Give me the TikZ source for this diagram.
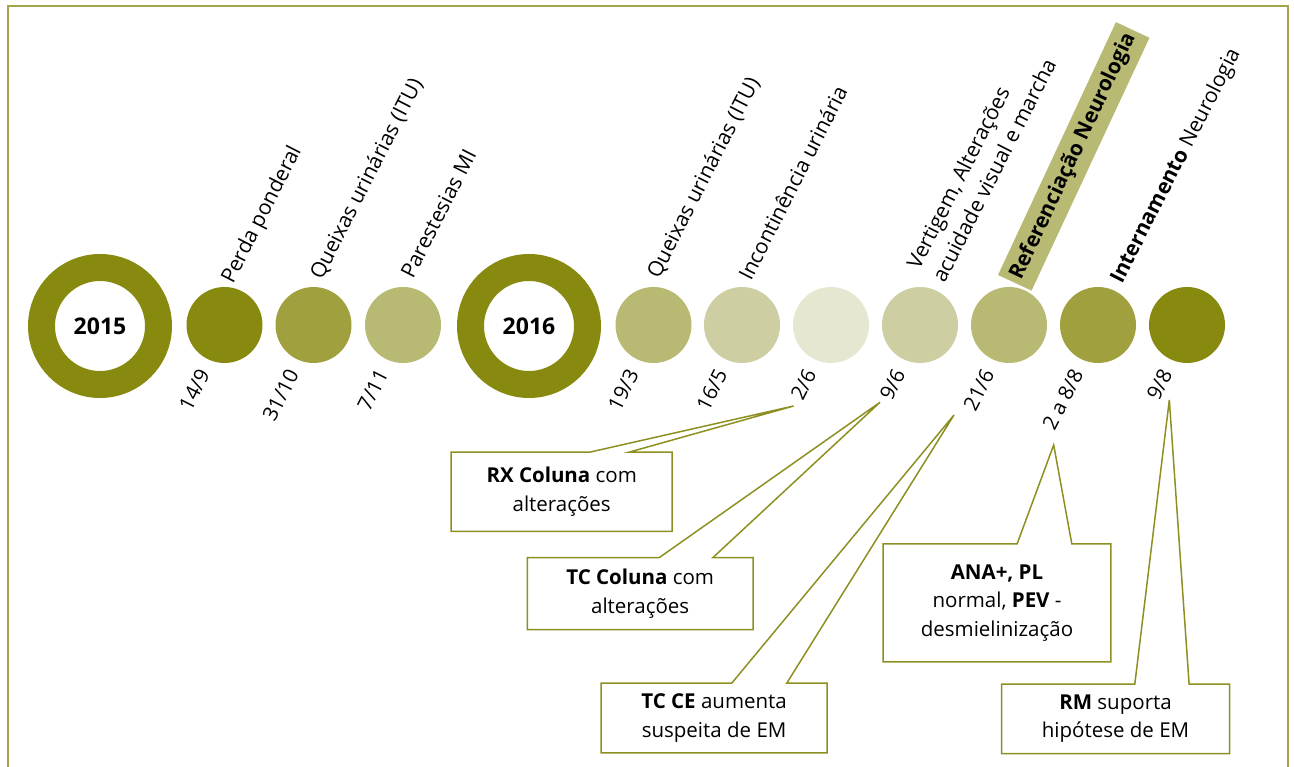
\documentclass[tikz,border=0pt]{standalone}
\usepackage{fontspec}
\setmainfont{Open Sans}
\definecolor{olA}{HTML}{878A0E}
\definecolor{olB}{HTML}{A0A03F}
\definecolor{olC}{HTML}{B8B973}
\definecolor{olD}{HTML}{CDCFA3}
\definecolor{olE}{HTML}{E6E7D0}
\definecolor{frameC}{HTML}{A3A64B}
\definecolor{olLine}{HTML}{8D9020}
\begin{document}
\begin{tikzpicture}[x=1pt,y=-1pt,
  dot/.style={circle, inner sep=0pt, minimum size=76pt},
  yearring/.style={circle, inner sep=0pt, minimum size=117pt, draw=olA, line width=27pt, fill=white, font=\fontsize{23}{27}\selectfont\bfseries},
  toplab/.style={rotate=63, anchor=base west, inner sep=0pt, font=\fontsize{21}{28.5}\selectfont},
  datelab/.style={rotate=63, anchor=base east, inner sep=0pt, font=\fontsize{20.5}{28}\selectfont},
  callbox/.style={inner sep=0pt, align=center, font=\fontsize{20.5}{28.5}\selectfont},
  callline/.style={draw=olLine, line width=1.5pt, line join=miter},
]
\useasboundingbox (0,0) rectangle (1294,767);
\draw[draw=frameC, line width=2pt] (7.5,775) -- (7.5,6.5) -- (1288,6.5) -- (1288,775);

% circles
\node[yearring] (y2015) at (100,326) {2015};
\node[dot, fill=olA] (c1) at (224.5,325) {};
\node[dot, fill=olB] (c2) at (313.5,325) {};
\node[dot, fill=olC] (c3) at (403,325) {};
\node[yearring] (y2016) at (529,326) {2016};
\node[dot, fill=olC] (c4) at (653.5,325) {};
\node[dot, fill=olD] (c5) at (742,325) {};
\node[dot, fill=olE] (c6) at (831,325) {};
\node[dot, fill=olD] (c7) at (920,325) {};
\node[dot, fill=olC] (c8) at (1009,325) {};
\node[dot, fill=olB] (c9) at (1098,325) {};
\node[dot, fill=olA] (c10) at (1187,325) {};

% top labels
\node[toplab] (t1) at (233,285) {Perda ponderal};
\node[toplab] (t2) at (322,281) {Queixas urinárias (ITU)};
\node[toplab] (t3) at (413,280) {Parestesias MI};
\node[toplab] (t4) at (659,280) {Queixas urinárias (ITU)};
\node[toplab] (t5) at (751,282) {Incontinência urinária};
\node[toplab, anchor=south west, align=left] (t6) at (945,284) {Vertigem, Alterações\\acuidade visual e marcha};
\node[rotate=65, anchor=west, fill=olC, minimum width=279pt, minimum height=37pt, inner sep=0pt, font=\fontsize{21}{28}\selectfont\bfseries] (t7) at (1014.7,283) {Referenciação Neurologia};
\node[toplab] (t8) at (1122,285) {\textbf{Internamento} Neurologia};

% date labels
\node[datelab] (d1) at (210.5,374) {14/9};
\node[datelab] (d2) at (299.5,374) {31/10};
\node[datelab] (d3) at (389,374) {7/11};
\node[datelab] (d4) at (639.5,374) {19/3};
\node[datelab] (d5) at (728,374) {16/5};
\node[datelab] (d6) at (817,374) {2/6};
\node[datelab] (d7) at (906,374) {9/6};
\node[datelab] (d8) at (995,374) {21/6};
\node[datelab] (d9) at (1084,374) {2 a 8/8};
\node[datelab] (d10) at (1173,374) {9/8};

% callouts
\node[callbox, minimum width=220.6pt, minimum height=78.7pt] (rx) at (561.7,491.7) {\textbf{RX Coluna} com\\alterações};
\coordinate (rxtip) at (793.6,406);
\draw[callline] (rx.north west) -- ([xshift=138.6pt]rx.north west) -- (rxtip) -- ([xshift=177.9pt]rx.north west) -- (rx.north east) -- (rx.south east) -- (rx.south west) -- cycle;

\node[callbox, minimum width=225.4pt, minimum height=71.6pt] (tcc) at (640.2,593.5) {\textbf{TC Coluna} com\\alterações};
\coordinate (tcctip) at (880,402.3);
\draw[callline] (tcc.north west) -- ([xshift=132.1pt]tcc.north west) -- (tcctip) -- ([xshift=185.7pt]tcc.north west) -- (tcc.north east) -- (tcc.south east) -- (tcc.south west) -- cycle;

\node[callbox, minimum width=225.4pt, minimum height=69.4pt] (tce) at (714.1,718) {\textbf{TC CE} aumenta\\suspeita de EM};
\coordinate (tcetip) at (954,415);
\draw[callline] (tce.north west) -- ([xshift=130.6pt]tce.north west) -- (tcetip) -- ([xshift=185.6pt]tce.north west) -- (tce.north east) -- (tce.south east) -- (tce.south west) -- cycle;

\node[callbox, minimum width=227.4pt, minimum height=117.7pt] (ana) at (997,602.9) {\textbf{ANA+, PL}\\normal, \textbf{PEV} -\\desmielinização};
\coordinate (anatip) at (1053.7,445);
\draw[callline] (ana.north west) -- ([xshift=134pt]ana.north west) -- (anatip) -- ([xshift=188.7pt]ana.north west) -- (ana.north east) -- (ana.south east) -- (ana.south west) -- cycle;

\node[callbox, minimum width=227.6pt, minimum height=69pt] (rm) at (1115.5,718.8) {\textbf{RM} suporta\\hipótese de EM};
\coordinate (rmtip) at (1169.3,400);
\draw[callline] (rm.north west) -- ([xshift=133.3pt]rm.north west) -- (rmtip) -- ([xshift=187.6pt]rm.north west) -- (rm.north east) -- (rm.south east) -- (rm.south west) -- cycle;
\end{tikzpicture}
\end{document}
